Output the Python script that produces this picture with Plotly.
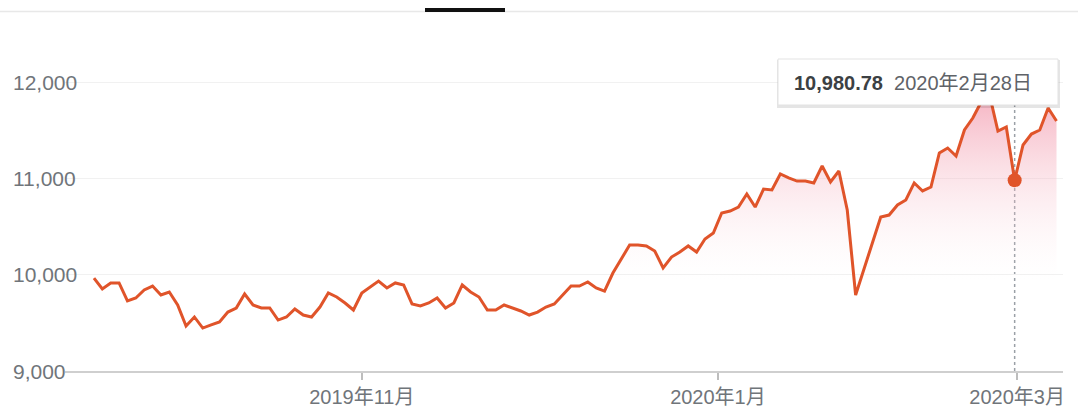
import plotly.graph_objects as go

# ---- data ----
values = [9965, 9851, 9914, 9914, 9727, 9758, 9841, 9882, 9789, 9820,
          9685, 9467, 9561, 9446, 9478, 9509, 9612, 9654, 9799, 9685,
          9654, 9654, 9529, 9561, 9644, 9581, 9561, 9664, 9810, 9768,
          9706, 9633, 9810, 9872, 9934, 9862, 9914, 9893, 9696, 9675,
          9706, 9758, 9654, 9706, 9893, 9820, 9768, 9633, 9633, 9685,
          9654, 9623, 9581, 9612, 9664, 9696, 9789, 9882, 9882, 9924,
          9862, 9830, 10017, 10163, 10308, 10308, 10298, 10246, 10069, 10183,
          10235, 10298, 10235, 10370, 10433, 10640, 10661, 10702, 10837, 10702,
          10889, 10879, 11045, 11004, 10972, 10972, 10952, 11128, 10962, 11076,
          10671, 9789, 10069, 10329, 10599, 10619, 10723, 10775, 10952, 10869,
          10910, 11263, 11315, 11232, 11502, 11626, 11792, 11865, 11491, 11533,
          10980.78, 11346, 11460, 11502, 11730, 11595]
x_index = list(range(len(values)))

x_tick_positions = [32.0, 74.55, 110.3]
x_tick_labels = ["2019年11月", "2020年1月", "2020年3月"]
y_tick_values = [9000, 10000, 11000, 12000]

highlight_index = 110
highlight_value = 10980.78
highlight_date = "2020年2月28日"

LINE = "#e0542a"
FONT = "Arial, 'Liberation Sans', 'Noto Sans CJK SC', sans-serif"
LABEL = "#70757a"

# layout geometry
L, R, T, B = 65, 15, 50, 38
W, H = 1078, 409
plot_w = W - L - R
plot_h = H - T - B

def px_x(p):
    return (p - L) / plot_w

def px_y(p):
    return (H - B - p) / plot_h

fig = go.Figure()

fig.add_trace(go.Scatter(
    x=x_index, y=values, mode="lines",
    line=dict(color=LINE, width=3),
    fill="tozeroy",
    fillgradient=dict(type="vertical", start=9950, stop=11900,
                      colorscale=[[0, "rgba(252,232,236,0)"],
                                  [1, "rgba(240,135,158,0.65)"]]),
    hoverinfo="skip",
))

fig.add_trace(go.Scatter(
    x=[highlight_index], y=[highlight_value], mode="markers",
    marker=dict(color=LINE, size=14),
    hoverinfo="skip",
))

shapes = []
# dotted vertical guide
shapes.append(dict(type="line", xref="x", yref="paper",
                   x0=highlight_index, x1=highlight_index,
                   y0=0, y1=px_y(105),
                   line=dict(color="#9aa0a6", width=1.5, dash="dot"),
                   layer="below"))
# tooltip shadow + box
shapes.append(dict(type="rect", xref="paper", yref="paper",
                   x0=px_x(777), x1=px_x(1060), y0=px_y(108), y1=px_y(60),
                   fillcolor="rgba(0,0,0,0.10)", line=dict(width=0)))
shapes.append(dict(type="rect", xref="paper", yref="paper",
                   x0=px_x(778), x1=px_x(1058), y0=px_y(105), y1=px_y(59),
                   fillcolor="white", line=dict(color="#e3e3e3", width=1)))
# top tab bar
shapes.append(dict(type="line", xref="paper", yref="paper",
                   x0=px_x(0), x1=px_x(W), y0=px_y(11.5), y1=px_y(11.5),
                   line=dict(color="#e8e8e8", width=1.5)))
shapes.append(dict(type="rect", xref="paper", yref="paper",
                   x0=px_x(425), x1=px_x(505), y0=px_y(12), y1=px_y(8),
                   fillcolor="#111111", line=dict(width=0)))

annotations = []
for v in y_tick_values:
    annotations.append(dict(xref="paper", yref="y", x=px_x(11), y=v,
                            xanchor="left", yanchor="middle", showarrow=False,
                            text=f"{v:,}", font=dict(family=FONT, size=21, color=LABEL)))

annotations.append(dict(
    xref="paper", yref="paper", x=px_x(792), y=px_y(83),
    xanchor="left", yanchor="middle", showarrow=False,
    text=(f"<span style='color:#3c4043'><b>{highlight_value:,.2f}</b></span>"
          f"&nbsp;&nbsp;<span style='color:#5f6368'>{highlight_date}</span>"),
    font=dict(family=FONT, size=20, color="#3c4043")))

fig.update_layout(
    width=W, height=H,
    margin=dict(l=L, r=R, t=T, b=B, autoexpand=False),
    paper_bgcolor="white", plot_bgcolor="white",
    showlegend=False, hovermode=False,
    shapes=shapes, annotations=annotations,
    xaxis=dict(range=[-3.46, -3.46 + plot_w / 8.37], automargin=False,
               tickmode="array", tickvals=x_tick_positions, ticktext=x_tick_labels,
               ticks="outside", ticklen=7, tickwidth=1.5, tickcolor="#bdbdbd",
               tickfont=dict(family=FONT, size=20, color=LABEL),
               showline=True, linecolor="#cfcfcf", linewidth=2,
               showgrid=False, zeroline=False, fixedrange=True),
    yaxis=dict(range=[9000, 9000 + plot_h * 10.381], automargin=False,
               tickmode="array", tickvals=y_tick_values, showticklabels=False,
               showgrid=True, gridcolor="#f1f1f1", gridwidth=1,
               zeroline=False, showline=False, fixedrange=True),
)

fig.write_html("out.html")
